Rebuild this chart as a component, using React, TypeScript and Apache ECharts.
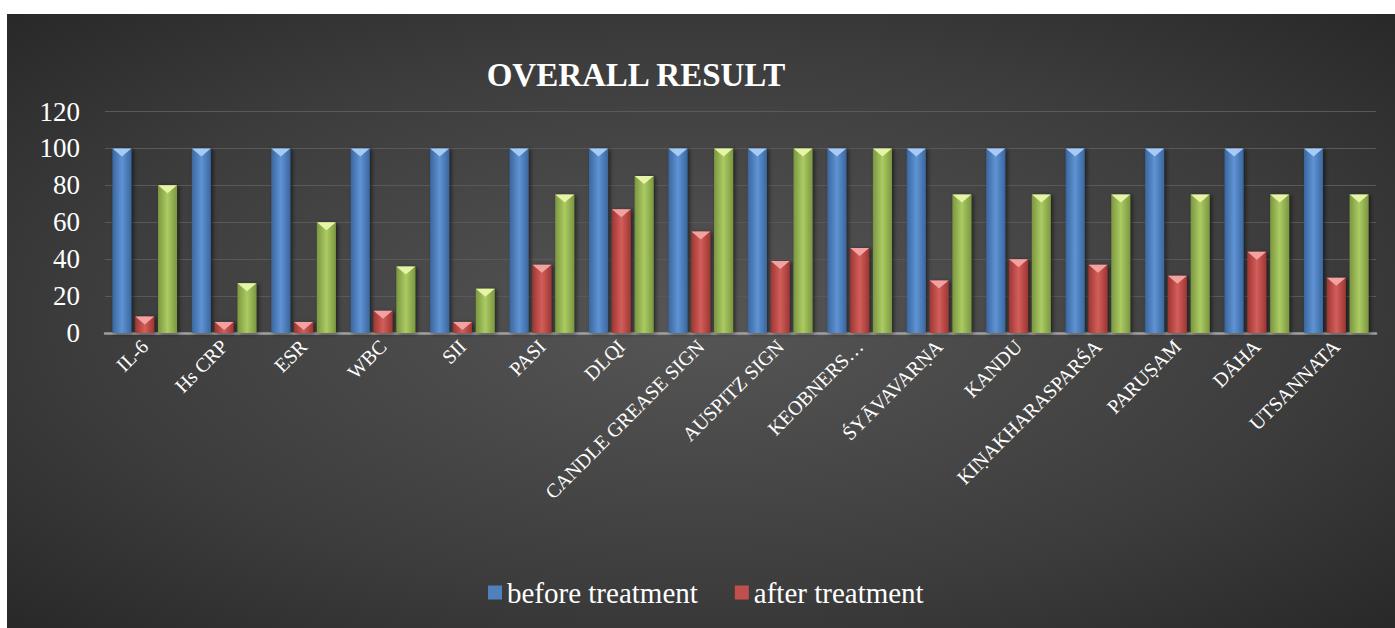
import React, { useEffect, useRef } from "react";
import * as echarts from "echarts";

const categories = [
  "IL-6", "Hs CRP", "ESR", "WBC", "SII", "PASI", "DLQI", "CANDLE GREASE SIGN",
  "AUSPITZ SIGN", "KEOBNERS…", "ŚYĀVAVARṆA", "KANDU", "KIṆAKHARASPARŚA",
  "PARUṢAM", "DĀHA", "UTSANNATA",
];
const beforeTreatment = [100, 100, 100, 100, 100, 100, 100, 100, 100, 100, 100, 100, 100, 100, 100, 100];
const afterTreatment = [9, 6, 6, 12, 6, 37, 67, 55, 39, 46, 28.5, 40, 37, 31, 44, 30];
const relief = [80, 27, 60, 36, 24, 75, 85, 100, 100, 100, 75, 75, 75, 75, 75, 75];
const yTicks = { min: 0, max: 120, interval: 20 };

const FONT = "'Liberation Serif', 'DejaVu Serif', serif";

const grad = (dark: string, light: string) =>
  new echarts.graphic.LinearGradient(0, 0, 1, 0, [
    { offset: 0, color: dark },
    { offset: 0.5, color: light },
    { offset: 1, color: dark },
  ]);

export default function App() {
  const ref = useRef<HTMLDivElement>(null);
  useEffect(() => {
    if (!ref.current) return;
    const chart = echarts.init(ref.current, null, { renderer: "svg" });
    const barCommon = {
      type: "bar" as const,
      barWidth: 19,
      barGap: "20%",
      itemStyle: {
        shadowColor: "rgba(0,0,0,0.55)",
        shadowBlur: 4,
        shadowOffsetX: 2,
        shadowOffsetY: 1,
      },
    };
    const triCommon = {
      type: "pictorialBar" as const,
      barWidth: 19,
      barGap: "20%",
      symbol: "triangle",
      symbolRotate: 180,
      symbolSize: [19, 8],
      symbolPosition: "end",
      z: 5,
      silent: true,
      legendHoverLink: false,
    };
    chart.setOption({
      animation: false,
      backgroundColor: "#ffffff",
      graphic: [
        {
          type: "rect",
          z: -10,
          silent: true,
          shape: { x: 7, y: 14, width: 1388, height: 614 },
          style: {
            fill: new echarts.graphic.RadialGradient(0.5, 0.5, 0.75, [
              { offset: 0, color: "#565656" },
              { offset: 0.6, color: "#3c3c3c" },
              { offset: 1, color: "#252525" },
            ]),
          },
        },
        {
          type: "text",
          x: 636,
          y: 75,
          style: {
            text: "OVERALL RESULT",
            fill: "#ffffff",
            font: `bold 33px ${FONT}`,
            textAlign: "center",
            textVerticalAlign: "middle",
          },
        },
      ],
      grid: { left: 105, right: 19, top: 111.5, bottom: 295, containLabel: false },
      legend: {
        data: [
          { name: "before treatment", itemStyle: { color: "#4f81bd" } },
          { name: "after treatment", itemStyle: { color: "#c0504d" } },
        ],
        top: 573,
        left: 483,
        icon: "rect",
        itemWidth: 14,
        itemHeight: 14,
        itemGap: 37,
        textStyle: { color: "#ffffff", fontSize: 29, fontFamily: FONT },
      },
      xAxis: {
        type: "category",
        data: categories,
        axisLine: { lineStyle: { color: "#a0a0a0", width: 2.5 } },
        axisTick: { show: false },
        axisLabel: {
          rotate: 45,
          interval: 0,
          color: "#ffffff",
          fontSize: 20,
          fontFamily: FONT,
          margin: 10,
        },
      },
      yAxis: {
        type: "value",
        min: yTicks.min,
        max: yTicks.max,
        interval: yTicks.interval,
        axisLine: { show: false },
        axisTick: { show: false },
        axisLabel: { color: "#ffffff", fontSize: 27, fontFamily: FONT, margin: 25 },
        splitLine: { lineStyle: { color: "#595959", width: 1 } },
      },
      series: [
        { ...barCommon, name: "before treatment", data: beforeTreatment,
          itemStyle: { ...barCommon.itemStyle, color: grad("#3a679f", "#5f93d4") } },
        { ...barCommon, name: "after treatment", data: afterTreatment,
          itemStyle: { ...barCommon.itemStyle, color: grad("#9e3633", "#d35e5a") } },
        { ...barCommon, name: "relief", data: relief,
          itemStyle: { ...barCommon.itemStyle, color: grad("#7b9740", "#abcb63") } },
        { ...triCommon, name: "t1", data: beforeTreatment, itemStyle: { color: "#a7cbf5" } },
        { ...triCommon, name: "t2", data: afterTreatment, itemStyle: { color: "#f2a3a1" } },
        { ...triCommon, name: "t3", data: relief, itemStyle: { color: "#e6f4a8" } },
      ],
    });
    return () => chart.dispose();
  }, []);
  return (
    <div
      ref={ref}
      style={{ position: "absolute", left: 0, top: 0, width: 1395, height: 628 }}
    />
  );
}
